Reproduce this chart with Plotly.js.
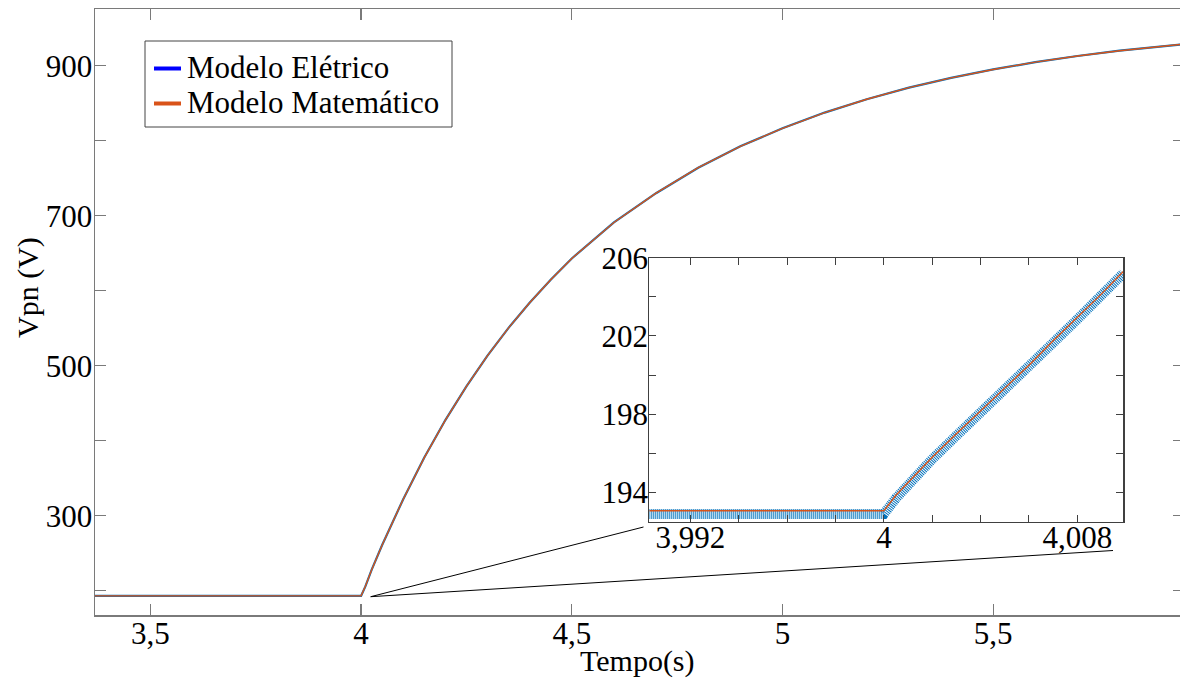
<!DOCTYPE html>
<html>
<head>
<meta charset="utf-8">
<script src="https://cdn.plot.ly/plotly-3.0.1.min.js"></script>
<style>
  html, body { margin: 0; padding: 0; overflow: hidden; background: #fff; }
  #chart { width: 1190px; height: 684px; }
</style>
</head>
<body>
<div id="chart"></div>
<script>
// ---- Main plot data ----
var mainT = [3.3686, 4.0, 4.01, 4.025, 4.05, 4.075, 4.1, 4.15, 4.2, 4.25, 4.3, 4.35, 4.4, 4.45, 4.5, 4.6, 4.7, 4.8, 4.9, 5.0, 5.1, 5.2, 5.3, 5.4, 5.5, 5.6, 5.7, 5.8, 5.9, 5.96];
var mainEletrico = [193.0, 193.0, 205.4, 227.7, 261.0, 292.4, 322.0, 377.5, 427.5, 472.5, 513.5, 550.5, 584.0, 614.5, 643.0, 691.0, 730.0, 764.0, 792.5, 816.5, 837.5, 855.3, 870.7, 883.8, 895.0, 904.7, 912.9, 920.0, 926.0, 929.2];
var mainMatematico = [193.06, 193.06, 205.5, 227.7, 261.0, 292.4, 322.0, 377.5, 427.5, 472.5, 513.5, 550.5, 584.0, 614.5, 643.0, 691.0, 730.0, 764.0, 792.5, 816.5, 837.5, 855.3, 870.7, 883.8, 895.0, 904.7, 912.9, 920.0, 926.0, 929.2];

// ---- Inset (zoom) data ----
var insetT = [3.9903, 4.0, 4.0005, 4.001, 4.002, 4.003, 4.004, 4.005, 4.006, 4.007, 4.008, 4.009, 4.0099];
var insetEletrico = [192.9, 192.9, 193.7, 194.4, 195.7, 196.9, 198.05, 199.2, 200.4, 201.65, 202.85, 204.05, 205.2];
var insetMatematico = [193.06, 193.06, 193.85, 194.5, 195.8, 197.0, 198.15, 199.3, 200.5, 201.75, 202.95, 204.15, 205.3];

// ---- Tick labels ----
var mainXTicks = [3.5, 4, 4.5, 5, 5.5];
var mainXTickText = ['3,5', '4', '4,5', '5', '5,5'];
var mainYTicks = [200, 300, 400, 500, 600, 700, 800, 900];
var mainYTickText = ['', '300', '', '500', '', '700', '', '900'];
var insetXTicks = [3.992, 3.994, 3.996, 3.998, 4.0, 4.002, 4.004, 4.006, 4.008];
var insetXTickText = ['3,992', '', '', '', '4', '', '', '', '4,008'];
var insetYTicks = [194, 196, 198, 200, 202, 204, 206];
var insetYTickText = ['194', '', '198', '', '202', '', '206'];

var seriesNames = ['Modelo Elétrico', 'Modelo Matemático'];
var legendColors = ['#0000FF', '#D95319'];

var BLUE = '#0072BD', ORANGE = '#D95319';
var FONT = 'Liberation Serif';

var traces = [
  {x: mainT, y: mainEletrico, xaxis: 'x', yaxis: 'y', mode: 'lines', name: seriesNames[0],
   line: {color: BLUE, width: 2.2}, showlegend: false, hoverinfo: 'skip'},
  {x: mainT, y: mainMatematico, xaxis: 'x', yaxis: 'y', mode: 'lines', name: seriesNames[1],
   line: {color: ORANGE, width: 1.4}, showlegend: false, hoverinfo: 'skip'},
  {x: insetT, y: insetEletrico, xaxis: 'x2', yaxis: 'y2', mode: 'lines', name: seriesNames[0],
   line: {color: BLUE, width: 10, dash: '1px,1px'}, showlegend: false, hoverinfo: 'skip'},
  {x: insetT, y: insetMatematico, xaxis: 'x2', yaxis: 'y2', mode: 'lines', name: seriesNames[1],
   line: {color: ORANGE, width: 1.4}, showlegend: false, hoverinfo: 'skip'}
];

var W = 1190, H = 684, ML = 95, MR = 6, MT = 9, MB = 69;
var PW = W - ML - MR, PH = H - MT - MB;
function px(x) { return (x - ML) / PW; }
function py(y) { return (H - MB - y) / PH; }

// manual legend (box, sample lines, labels)
var legBox = {x0: 145, y0: 41, x1: 452, y1: 127};
var legRows = [68.5, 103.5];
var shapes = [
  {type: 'rect', xref: 'paper', yref: 'paper', x0: px(649.3), x1: px(1123.3),
   y0: py(521.7), y1: py(257.7), fillcolor: '#fff', line: {width: 0}, layer: 'below'},
  {type: 'line', xref: 'paper', yref: 'paper', x0: px(370.7), y0: py(596.7),
   x1: px(643.5), y1: py(527), line: {color: '#000', width: 1}},
  {type: 'line', xref: 'paper', yref: 'paper', x0: px(370.7), y0: py(596.7),
   x1: px(1113), y1: py(550.5), line: {color: '#000', width: 1}},
  {type: 'rect', xref: 'paper', yref: 'paper', x0: px(legBox.x0), x1: px(legBox.x1),
   y0: py(legBox.y1), y1: py(legBox.y0), fillcolor: '#fff', line: {color: '#444', width: 1}}
];
var annotations = [
  {text: 'Tempo(s)', xref: 'paper', yref: 'paper', x: px(637.5), y: py(661),
   xanchor: 'center', yanchor: 'middle', showarrow: false,
   font: {family: FONT, size: 30, color: '#000'}},
  {text: 'Vpn (V)', xref: 'paper', yref: 'paper', x: px(28), y: py(288),
   xanchor: 'center', yanchor: 'middle', showarrow: false, textangle: -90,
   font: {family: FONT, size: 30, color: '#000'}}
];
for (var i = 0; i < seriesNames.length; i++) {
  shapes.push({type: 'line', xref: 'paper', yref: 'paper', x0: px(154), x1: px(181),
               y0: py(legRows[i]), y1: py(legRows[i]),
               line: {color: legendColors[i], width: 4}});
  annotations.push({text: seriesNames[i], xref: 'paper', yref: 'paper',
                    x: px(185), y: py(legRows[i] - 1), xanchor: 'left', yanchor: 'middle',
                    showarrow: false, font: {family: FONT, size: 31, color: '#000'}});
}

var layout = {
  width: W, height: H,
  margin: {l: ML, r: MR, t: MT, b: MB, pad: 0},
  paper_bgcolor: '#fff', plot_bgcolor: '#fff',
  separators: ',.',
  font: {family: FONT, size: 30, color: '#000'},
  showlegend: false,
  xaxis: {domain: [0, 1], range: [3.3686, 5.9528], tickmode: 'array',
          tickvals: mainXTicks, ticktext: mainXTickText,
          ticks: 'inside', ticklen: 11, tickwidth: 1.3, tickcolor: '#7a7a7a',
          showline: true, linecolor: '#7a7a7a', linewidth: 1.5, mirror: 'ticks',
          showgrid: false, zeroline: false, ticklabelstandoff: -10,
          tickfont: {family: FONT, size: 31, color: '#000'}},
  yaxis: {domain: [0, 1], range: [167.6, 975.6], tickmode: 'array',
          tickvals: mainYTicks, ticktext: mainYTickText,
          ticks: 'inside', ticklen: 11, tickwidth: 1.3, tickcolor: '#7a7a7a',
          showline: true, linecolor: '#7a7a7a', linewidth: 1.5, mirror: 'ticks',
          showgrid: false, zeroline: false, ticklabelstandoff: -5,
          tickfont: {family: FONT, size: 31, color: '#000'}},
  xaxis2: {domain: [px(649.3), px(1123.3)], anchor: 'y2', range: [3.9903, 4.0099],
           tickmode: 'array', tickvals: insetXTicks, ticktext: insetXTickText,
           ticks: 'inside', ticklen: 7, tickwidth: 1, tickcolor: '#404040',
           showline: true, linecolor: '#404040', linewidth: 1.2, mirror: 'ticks',
           showgrid: false, zeroline: false, ticklabelstandoff: -12,
           tickfont: {family: FONT, size: 31, color: '#000'}},
  yaxis2: {domain: [py(521.7), py(257.7)], anchor: 'x2', range: [192.5, 206],
           tickmode: 'array', tickvals: insetYTicks, ticktext: insetYTickText,
           ticks: 'inside', ticklen: 7, tickwidth: 1, tickcolor: '#404040',
           showline: true, linecolor: '#404040', linewidth: 1.2, mirror: 'ticks',
           showgrid: false, zeroline: false, ticklabelstandoff: -6,
           tickfont: {family: FONT, size: 31, color: '#000'}},
  shapes: shapes,
  annotations: annotations
};

Plotly.newPlot('chart', traces, layout, {staticPlot: true, displayModeBar: false});
</script>
</body>
</html>
